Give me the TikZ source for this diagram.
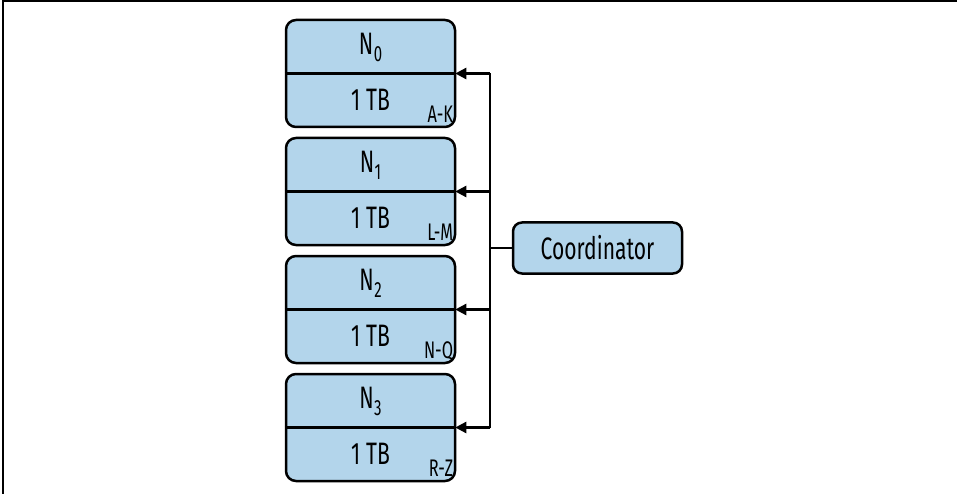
\documentclass[tikz,border=0pt]{standalone}
\usepackage{fontspec}
\setmainfont[FakeStretch=0.68]{Fira Sans}
\usetikzlibrary{arrows.meta,positioning,calc}
\definecolor{boxfill}{RGB}{179,213,235}
\tikzset{
  nodebox/.style={draw=black, line width=2.5pt, fill=boxfill, rounded corners=10pt,
    minimum width=169pt, minimum height=107pt, inner sep=0pt},
  coordbox/.style={draw=black, line width=2.5pt, fill=boxfill, rounded corners=9pt,
    minimum width=169pt, minimum height=51pt, inner sep=0pt, font=\fontsize{31}{34}\selectfont},
  bigtxt/.style={font=\fontsize{31}{34}\selectfont, inner sep=0pt},
  rangetxt/.style={font=\fontsize{24}{26}\selectfont, inner sep=0pt, anchor=base east},
  conn/.style={line width=2.3pt, draw=black},
  arr/.style={conn, -{Triangle[length=11pt,width=11pt]}, shorten >=-1pt},
}
\newcommand{\nsub}[1]{N\kern0.5pt\raisebox{-0.22em}{\fontsize{22}{24}\selectfont #1}}
\begin{document}
\begin{tikzpicture}[x=1pt,y=-1pt]
  \useasboundingbox (0,0) rectangle (957,494);
  % thin frame along the top and left edges
  \draw[line width=1.5pt] (3,494) -- (3,1.2) -- (957,1.2);

  % storage nodes: name, key range
  \foreach \i/\rng [count=\k from 0] in {0/A-K,1/L-M,2/N-Q,3/R-Z}{
    \node[nodebox] (n\i) at (370.5, 73.5+118*\k) {};
    \draw[line width=2.5pt] (n\i.west) -- (n\i.east);
    \node[bigtxt] (name\i) at ($(n\i.center)+(0,-26)$) {\nsub{\i}};
    \node[bigtxt] (cap\i) at ($(n\i.center)+(0,26)$) {1\kern6pt TB};
    \node[rangetxt] (rng\i) at ($(n\i.south east)+(-3,-6)$) {\rng};
  }

  \node[coordbox] (c) at (597.5,248) {Coordinator};

  % fan-out from the coordinator to every node
  \coordinate (j) at (490,248);
  \draw[conn] (c.west) -- (j);
  \draw[conn] (n0.east -| j) -- (n3.east -| j);
  \foreach \i in {0,...,3}{
    \draw[arr] (n\i.east -| j) -- (n\i.east);
  }
\end{tikzpicture}
\end{document}
